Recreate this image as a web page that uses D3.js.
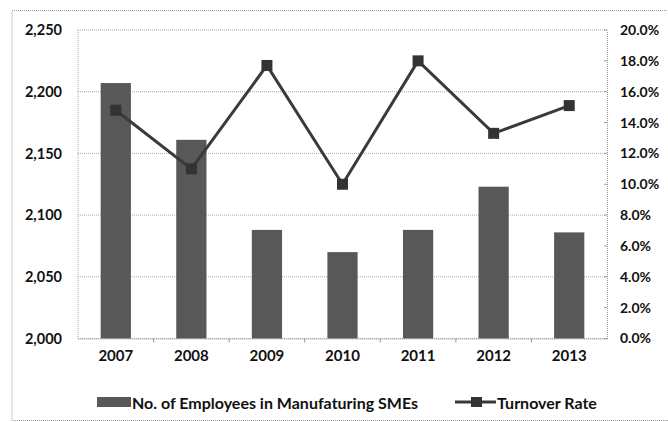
<!DOCTYPE html>
<html><head><meta charset="utf-8">
<script src="https://cdn.jsdelivr.net/npm/d3@7"></script>
<style>body{margin:0;background:#fff;}svg{display:block;}</style>
</head><body>
<svg id="c" width="668" height="422"></svg>
<script>
const years = ["2007","2008","2009","2010","2011","2012","2013"];
const employees = [2207, 2161, 2088, 2070, 2088, 2123, 2086];
const turnover = [0.148, 0.110, 0.177, 0.100, 0.180, 0.133, 0.151];
const leftTicks = [2000, 2050, 2100, 2150, 2200, 2250];
const rightTicks = [0, 0.02, 0.04, 0.06, 0.08, 0.10, 0.12, 0.14, 0.16, 0.18, 0.20];
const seriesNames = ["No. of Employees in Manufaturing SMEs", "Turnover Rate"];

const svg = d3.select("#c");
const font = "Lato, 'Open Sans', sans-serif";
const L = 78, R = 607, T = 30, B = 338.5;
const barColor = "#585858", lineColor = "#3a3a3a";

// outer dotted border
svg.append("rect").attr("x",12).attr("y",10.5).attr("width",680).attr("height",410)
  .attr("fill","none").attr("stroke","#999").attr("stroke-width",1).attr("stroke-dasharray","1,1");

const x = d3.scaleBand().domain(years).range([L,R]).paddingInner(0.6).paddingOuter(0.3);
const xb = d3.scaleBand().domain(years).range([L,R]);
const yL = d3.scaleLinear().domain([2000,2250]).range([B,T]);
const yR = d3.scaleLinear().domain([0,0.20]).range([B,T]);

// gridlines
svg.append("g").selectAll("line").data(leftTicks).join("line")
  .attr("x1",L).attr("x2",R).attr("y1",d=>yL(d)).attr("y2",d=>yL(d))
  .attr("stroke","#aaa").attr("stroke-dasharray","1,1");

// left vertical dotted line
svg.append("line").attr("x1",L).attr("x2",L).attr("y1",T).attr("y2",B)
  .attr("stroke","#aaa").attr("stroke-dasharray","1,1");

// right axis
const gR = svg.append("g").attr("transform",`translate(${R},0)`)
  .call(d3.axisRight(yR).tickValues(rightTicks).tickFormat(d3.format(".1%")).tickSize(0).tickPadding(13));
gR.select(".domain").attr("stroke","#999").attr("stroke-dasharray","1,1");
gR.selectAll("text").attr("font-family",font).attr("font-weight","bold").attr("font-size","14px").attr("fill","#111");
svg.append("g").selectAll("line").data(rightTicks).join("line")
  .attr("x1",R-3).attr("x2",R).attr("y1",d=>yR(d)).attr("y2",d=>yR(d)).attr("stroke","#999");

// left axis labels
const gL = svg.append("g").attr("transform",`translate(${L},0)`)
  .call(d3.axisLeft(yL).tickValues(leftTicks).tickFormat(d3.format(",")).tickSize(0).tickPadding(16));
gL.select(".domain").remove();
gL.selectAll("text").attr("font-family",font).attr("font-weight","bold").attr("font-size","14.5px").attr("fill","#111");

// bars
svg.append("g").selectAll("rect").data(years).join("rect")
  .attr("x",d=>x(d)).attr("width",x.bandwidth())
  .attr("y",(d,i)=>yL(employees[i])).attr("height",(d,i)=>B-yL(employees[i]))
  .attr("fill",barColor);

// x axis
const gX = svg.append("g").attr("transform",`translate(0,${B})`)
  .call(d3.axisBottom(xb).tickSize(0).tickPadding(12));
gX.select(".domain").attr("stroke","#999").attr("stroke-dasharray","1,1");
gX.selectAll("text").attr("font-family",font).attr("font-weight","bold").attr("font-size","15px").attr("fill","#111");
svg.append("g").selectAll("line").data(years.slice(1)).join("line")
  .attr("x1",d=>xb(d)).attr("x2",d=>xb(d)).attr("y1",B).attr("y2",B+4).attr("stroke","#999");

// line
const line = d3.line().x((d,i)=>xb(years[i])+xb.bandwidth()/2).y(d=>yR(d));
svg.append("path").datum(turnover).attr("d",line).attr("fill","none")
  .attr("stroke",lineColor).attr("stroke-width",3);
svg.append("g").selectAll("rect").data(turnover).join("rect")
  .attr("x",(d,i)=>xb(years[i])+xb.bandwidth()/2-5.5).attr("y",d=>yR(d)-5.5)
  .attr("width",11).attr("height",11).attr("fill","#333");

// legend
const lg = svg.append("g");
lg.append("rect").attr("x",97).attr("y",397).attr("width",34).attr("height",10).attr("fill",barColor);
lg.append("text").attr("x",132).attr("y",408.5).text(seriesNames[0])
  .attr("font-family",font).attr("font-weight","bold").attr("font-size","16px").attr("fill","#111");
lg.append("line").attr("x1",455).attr("x2",496).attr("y1",402).attr("y2",402).attr("stroke",lineColor).attr("stroke-width",3);
lg.append("rect").attr("x",471).attr("y",397).attr("width",11).attr("height",10).attr("fill","#333");
lg.append("text").attr("x",497).attr("y",408.5).text(seriesNames[1])
  .attr("font-family",font).attr("font-weight","bold").attr("font-size","16px").attr("fill","#111");
</script>
</body></html>
